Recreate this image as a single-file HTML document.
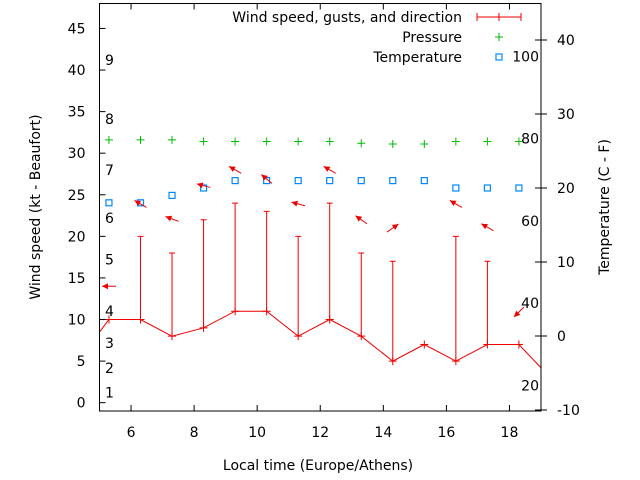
<!DOCTYPE html>
<html><head><meta charset="utf-8">
<style>
html,body{margin:0;padding:0;background:#fff;}
svg{display:block;font-family:"DejaVu Sans","Liberation Sans",sans-serif;font-size:14px;}
</style></head>
<body>
<svg id="chart" width="640" height="480" viewBox="0 0 640 480" xmlns="http://www.w3.org/2000/svg">
<rect x="0" y="0" width="640" height="480" fill="#fff"/>
<g id="marks"></g>
<g id="axes"></g>
<text transform="translate(40,207) rotate(-90)" text-anchor="middle">Wind speed (kt - Beaufort)</text>
<text transform="translate(609,207) rotate(-90)" text-anchor="middle">Temperature (C - F)</text>
<text x="318" y="470" text-anchor="middle">Local time (Europe/Athens)</text>
<g>
  <text x="462" y="22" text-anchor="end">Wind speed, gusts, and direction</text>
  <line x1="477" y1="17" x2="521" y2="17" stroke="#e00" stroke-width="1"/>
  <line x1="477" y1="13" x2="477" y2="21" stroke="#e00"/>
  <line x1="521" y1="13" x2="521" y2="21" stroke="#e00"/>
  <line x1="499" y1="13" x2="499" y2="21" stroke="#e00"/>
  <text x="462" y="42" text-anchor="end">Pressure</text>
  <path d="M495 37h8M499 33v8" stroke="#0b0" stroke-width="1"/>
  <text x="462" y="62" text-anchor="end">Temperature</text>
  <rect x="496" y="54" width="6" height="6" fill="none" stroke="#08f" stroke-width="1.2"/>
</g>
</svg>
<script>
const hours=[5.3,6.3,7.3,8.3,9.3,10.3,11.3,12.3,13.3,14.3,15.3,16.3,17.3,18.3];
const speedHours=[4.3,5.3,6.3,7.3,8.3,9.3,10.3,11.3,12.3,13.3,14.3,15.3,16.3,17.3,18.3,19.3];
const speeds=[5,10,10,8,9,11,11,8,10,8,5,7,5,7,7,3];
const gusts=[null,20,18,22,24,23,20,24,18,17,null,20,17,null];
const pressure=[31.6,31.6,31.6,31.4,31.4,31.4,31.4,31.4,31.2,31.1,31.1,31.4,31.4,31.4];
const temperature=[18,18,19,20,21,21,21,21,21,21,21,20,20,20];
const arrowLevel=[14.0,23.9,22.1,26.1,28.0,26.9,23.9,28.0,22.0,21.0,null,23.9,21.1,10.9];
const arrowAngle=[180,150,160,165,150,140,165,150,145,35,null,150,150,225];
const xTicks=[6,8,10,12,14,16,18];
const yTicks=[0,5,10,15,20,25,30,35,40,45];
const y2Ticks=[-10,0,10,20,30,40];
const beaufortLabels=["1","2","3","4","5","6","7","8","9"];
const beaufortKt=[1.2,4.2,7.2,11,17.2,22.2,28,34.1,41.2];
const fahrenheitLabels=["20","40","60","80","100"];
const fahrenheitC=[-6.67,4.44,15.56,26.67,37.78];

const L=99.5,R=541,T=3.5,B=411;
const xS=v=>L+(v-5)/(19-5)*(R-L);
const yS=v=>B-(v+1)/(48+1)*(B-T);
const y2S=v=>336-v*7.4;
const NS="http://www.w3.org/2000/svg";
const marks=document.getElementById('marks'), axes=document.getElementById('axes');
function mk(tag,attrs,parent){const e=document.createElementNS(NS,tag);for(const k in attrs)e.setAttribute(k,attrs[k]);parent.appendChild(e);return e;}

const clip=mk('clipPath',{id:'pc'},marks);
mk('rect',{x:L,y:T,width:R-L,height:B-T},clip);
const g=mk('g',{'clip-path':'url(#pc)'},marks);

let d=speedHours.map((h,i)=>(i?'L':'M')+xS(h).toFixed(1)+' '+yS(speeds[i]).toFixed(1)).join(' ');
const ln=mk('path',{d:d,fill:'none',stroke:'#e00','stroke-width':1},g);


speedHours.forEach((h,i)=>{
  const x=xS(h),y=yS(speeds[i]);
  const p=mk('path',{d:`M${x-4} ${y}h8M${x} ${y-4}v8`,stroke:'#e00','stroke-width':1},g);
  
  
});
hours.forEach((h,i)=>{
  if(gusts[i]==null)return;
  const x=xS(h),y0=yS(speeds[i+1]),y1=yS(gusts[i]);
  const p=mk('path',{d:`M${x} ${y0}V${y1}M${x-3} ${y1}h6`,stroke:'#e00','stroke-width':1},g);
  
  
});
hours.forEach((h,i)=>{
  const x=xS(h),y=yS(pressure[i]);
  const p=mk('path',{d:`M${x-4} ${y}h8M${x} ${y-4}v8`,stroke:'#0b0','stroke-width':1},g);
  
  
});
hours.forEach((h,i)=>{
  const x=xS(h),y=y2S(temperature[i]);
  const p=mk('rect',{x:x-3,y:y-3,width:6,height:6,fill:'none',stroke:'#08f','stroke-width':1.2},g);
  
  
});
hours.forEach((h,i)=>{
  if(arrowLevel[i]==null)return;
  const cx=xS(h),cy=yS(arrowLevel[i]),a=arrowAngle[i]*Math.PI/180,len=14;
  const dx=Math.cos(a),dy=-Math.sin(a);
  const hx=cx+dx*len/2,hy=cy+dy*len/2,tx=cx-dx*len/2,ty=cy-dy*len/2;
  const px=-dy,py=dx;
  const ag=mk('g',{},g);
  
  
  mk('line',{x1:tx,y1:ty,x2:hx,y2:hy,stroke:'#e00','stroke-width':1},ag);
  const bx=hx-dx*6,by=hy-dy*6;
  mk('polygon',{points:`${hx},${hy} ${bx+px*3},${by+py*3} ${bx-px*3},${by-py*3}`,fill:'#e00'},ag);
});

const bd=mk('rect',{x:L,y:T,width:R-L,height:B-T,fill:'none',stroke:'#000','stroke-width':1},axes);


xTicks.forEach(v=>{
  const x=xS(v);
  mk('path',{d:`M${x} ${B}v-6M${x} ${T}v6`,stroke:'#000'},axes);
  const t=mk('text',{x:x,y:B+26,'text-anchor':'middle'},axes);t.textContent=v;
  
  
});
yTicks.forEach(v=>{
  const y=yS(v);
  mk('path',{d:`M${L} ${y}h6`,stroke:'#000'},axes);
  const t=mk('text',{x:L-14,y:y+5,'text-anchor':'end'},axes);t.textContent=v;
  
  
});
y2Ticks.forEach(v=>{
  const y=y2S(v);
  mk('path',{d:`M${R-6} ${y}h12`,stroke:'#000'},axes);
  const t=mk('text',{x:R+16,y:y+5,'text-anchor':'start'},axes);t.textContent=v;
  
  
});
beaufortLabels.forEach((s,i)=>{
  const t=mk('text',{x:105,y:yS(beaufortKt[i])+5},axes);t.textContent=s;
  
  
});
fahrenheitLabels.forEach((s,i)=>{
  const t=mk('text',{x:539,y:y2S(fahrenheitC[i])+5,'text-anchor':'end'},axes);t.textContent=s;
  
  
});
</script>
</body></html>
